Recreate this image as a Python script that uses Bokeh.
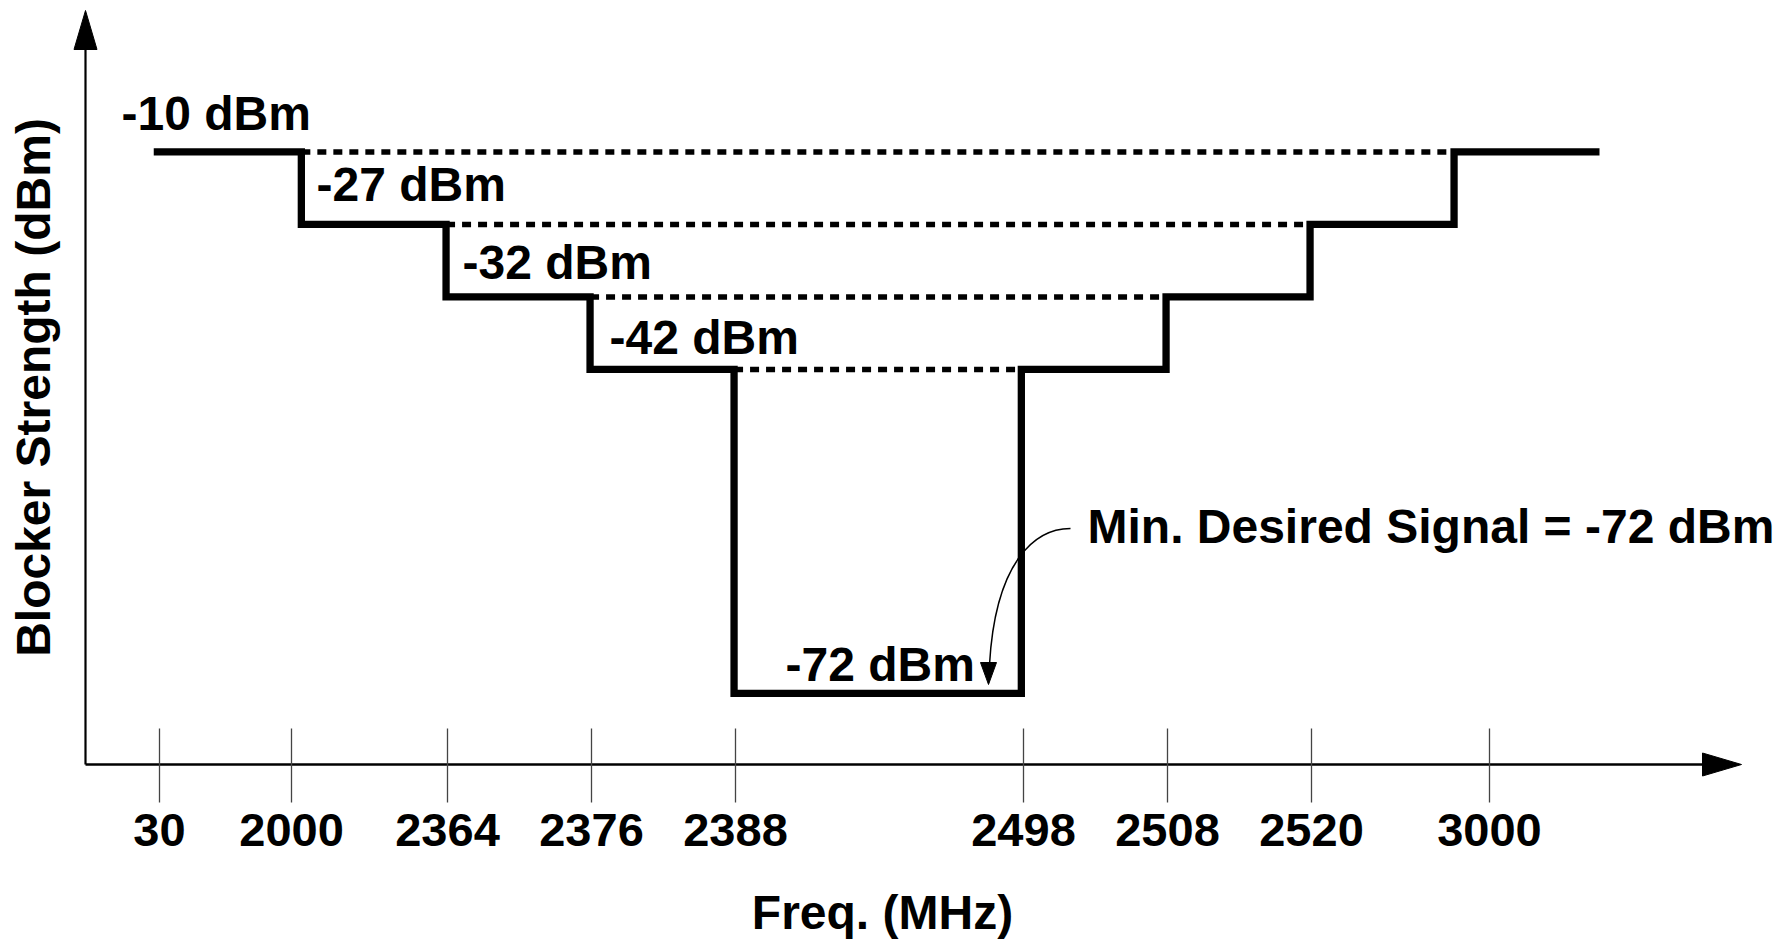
from bokeh.plotting import figure
from bokeh.models import Range1d, FixedTicker, Label, ColumnDataSource
from bokeh.core.properties import value
from bokeh.embed import file_html
from bokeh.resources import INLINE

# ---------------- data ----------------
tick_freqs_mhz = [30, 2000, 2364, 2376, 2388, 2498, 2508, 2520, 3000]
edge_freqs_mhz = [2000, 2364, 2376, 2388, 2498, 2508, 2520, 3000]
band_levels_dbm = [-10, -27, -32, -42, -72, -42, -32, -27, -10]
min_desired_dbm = -72

# ------------- schematic layout (diagram is not to scale) -------------
PX_PER_SLOT = 144.0
PX_PER_ROW = 72.5
ORIGIN_PX = (159.0, 764.0)            # pixel of slot 0 / row 0
tick_slot = [0, 0.917, 2, 3, 4, 6, 7, 8, 9.236]                    # where each tick is drawn
edge_slot = [0.985, 1.99, 2.99, 3.99, 5.985, 6.99, 7.99, 8.99]     # where each mask step is drawn
mask_start, mask_end = -0.04, 10.0
level_row = {-10: 8.45, -27: 7.45, -32: 6.45, -42: 5.45, -72: 0.98}


def sx(px):
    return (px - ORIGIN_PX[0]) / PX_PER_SLOT


def sy(py):
    return (ORIGIN_PX[1] - py) / PX_PER_ROW


label_at = {-10: (sx(121), sy(113)), -27: (sx(316), sy(184)), -32: (sx(462), sy(262)),
            -42: (sx(609), sy(337)), -72: (sx(785), sy(664))}
note_at = (sx(1087), sy(526))

FONT = "Liberation Sans"
FS_TICK = "47px"
FS = "48px"

W, H = 1780, 940
axis_x_px, axis_tip_x_px, axis_tip_y_px = 85, 1741, 10
x_label_center_px = 882

p = figure(width=W, height=H, output_backend="svg", toolbar_location=None,
           x_range=Range1d(sx(0), sx(W)), y_range=Range1d(sy(H), sy(0)),
           min_border_left=0, min_border_right=0, min_border_top=0, min_border_bottom=0)
p.outline_line_color = None
p.grid.visible = False
p.background_fill_color = "white"
p.border_fill_color = "white"

# ---- x axis (placed at row 0 inside the frame) ----
xa = p.xaxis[0]
xa.fixed_location = 0
xa.bounds = (sx(axis_x_px), sx(2 * x_label_center_px - axis_x_px))
xa.ticker = FixedTicker(ticks=tick_slot)
xa.major_label_overrides = {s: str(f) for s, f in zip(tick_slot, tick_freqs_mhz)}
xa.axis_line_color = None
xa.major_tick_in = 36
xa.major_tick_out = 38
xa.major_tick_line_width = 1.3
xa.major_tick_line_color = "#444444"
xa.minor_tick_line_color = None
xa.major_label_standoff = 11
xa.major_label_text_font = FONT
xa.major_label_text_font_style = "bold"
xa.major_label_text_font_size = FS_TICK
xa.major_label_text_color = "black"
xa.axis_label = "Freq. (MHz)"
xa.axis_label_standoff = 37
xa.axis_label_text_font = FONT
xa.axis_label_text_font_style = "bold"
xa.axis_label_text_font_size = FS
xa.axis_label_text_color = "black"

# ---- y axis ----
y_tip = sy(axis_tip_y_px)
x0 = sx(axis_x_px)
ya = p.yaxis[0]
ya.fixed_location = x0
ya.bounds = (0, y_tip)
ya.ticker = FixedTicker(ticks=[])
ya.axis_line_color = None
ya.major_tick_in = 0
ya.major_tick_out = 0
ya.minor_tick_line_color = None
ya.major_label_text_font_size = "0px"
ya.axis_label = "Blocker Strength (dBm)"
ya.axis_label_standoff = 26
ya.axis_label_text_font = FONT
ya.axis_label_text_font_style = "bold"
ya.axis_label_text_font_size = FS
ya.axis_label_text_color = "black"

# axis lines with arrow heads
x_tip = sx(axis_tip_x_px)
p.line([x0, sx(axis_tip_x_px - 30)], [0, 0], line_width=2.6, line_color="black")
p.line([x0, x0], [0, sy(axis_tip_y_px + 30)], line_width=2.2, line_color="black")
HEAD_LEN, HEAD_HALF = 39, 11.5
p.patch([x_tip, sx(axis_tip_x_px - HEAD_LEN), sx(axis_tip_x_px - HEAD_LEN)],
        [0, sy(ORIGIN_PX[1] - HEAD_HALF), sy(ORIGIN_PX[1] + HEAD_HALF)],
        fill_color="black", line_color="black", line_width=1)
p.patch([x0, sx(axis_x_px - HEAD_HALF), sx(axis_x_px + HEAD_HALF)],
        [y_tip, sy(axis_tip_y_px + HEAD_LEN), sy(axis_tip_y_px + HEAD_LEN)],
        fill_color="black", line_color="black", line_width=1)

# ---- dotted reference lines ----
n = len(edge_slot)
for i in range(4):
    lvl = band_levels_dbm[i]
    p.line([edge_slot[i], edge_slot[n - 1 - i]], [level_row[lvl]] * 2,
           line_width=5.5, line_color="black", line_dash="9 7")

# ---- blocker mask (step) ----
mx = [mask_start]
my = [level_row[band_levels_dbm[0]]]
for i, s in enumerate(edge_slot):
    mx += [s, s]
    my += [level_row[band_levels_dbm[i]], level_row[band_levels_dbm[i + 1]]]
mx.append(mask_end)
my.append(level_row[band_levels_dbm[-1]])
p.line(mx, my, line_width=7.3, line_color="black", line_join="miter")

# ---- level labels ----
lv = [-10, -27, -32, -42, -72]
src = ColumnDataSource(dict(x=[label_at[v][0] for v in lv],
                            y=[label_at[v][1] for v in lv],
                            text=[f"{v} dBm" for v in lv]))
p.text(x="x", y="y", text="text", source=src, text_font=value(FONT),
       text_font_style="bold", text_font_size=FS, text_color="black",
       text_align="left", text_baseline="middle")

p.add_layout(Label(x=note_at[0], y=note_at[1], text=f"Min. Desired Signal = {min_desired_dbm} dBm",
                   text_font=FONT, text_font_style="bold", text_font_size=FS,
                   text_color="black", text_align="left", text_baseline="middle"))

# curved pointer to the desired-signal level
p.bezier(x0=[sx(1070)], y0=[sy(528)], x1=[sx(989)], y1=[sy(664)],
         cx0=[sx(1035)], cy0=[sy(528)], cx1=[sx(995)], cy1=[sy(560)],
         line_width=1.5, line_color="black")
p.patch([sx(988), sx(980), sx(996)], [sy(684), sy(662), sy(662)],
        fill_color="black", line_color="black", line_width=1)

open("out.html", "w").write(file_html(p, INLINE))
